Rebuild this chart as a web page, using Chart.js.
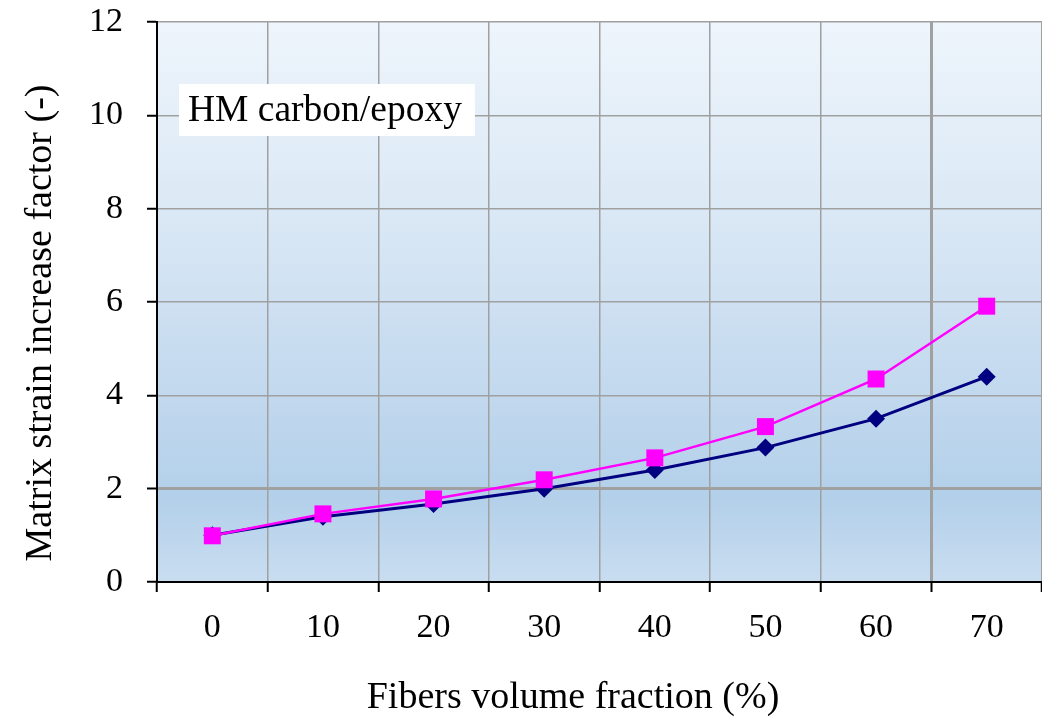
<!DOCTYPE html>
<html>
<head>
<meta charset="utf-8">
<script src="https://cdn.jsdelivr.net/npm/chart.js@4/dist/chart.umd.min.js"></script>
<style>
    body { margin: 0; background: #ffffff; }
    canvas { display: block; }
</style>
</head>
<body>
<canvas id="strain-chart" width="1042" height="720"></canvas>
<script>
// 數據
const fractions = ['0', '10', '20', '30', '40', '50', '60', '70'];
const squareSeries = [0.99, 1.46, 1.78, 2.19, 2.66, 3.33, 4.35, 5.91];
const diamondSeries = [1.00, 1.40, 1.67, 2.00, 2.40, 2.88, 3.50, 4.40];
const yTicks = [0, 2, 4, 6, 8, 10, 12];

const xTitle = 'Fibers volume fraction (%)';
const yTitle = 'Matrix strain increase factor (-)';
const boxLabel = 'HM carbon/epoxy';

const serif = '"Liberation Serif", "Times New Roman", serif';

// 背景漸層
const plotBackground = {
    id: 'plotBackground',
    beforeDraw(chart) {
        const { ctx, chartArea: a } = chart;
        const g = ctx.createLinearGradient(0, a.top, 0, a.bottom);
        g.addColorStop(0, '#eef5fc');
        g.addColorStop(0.35, '#dae8f5');
        g.addColorStop(0.65, '#c3d9ee');
        g.addColorStop(0.85, '#b3d0ea');
        g.addColorStop(1, '#c9ddf0');
        ctx.save();
        ctx.fillStyle = g;
        ctx.fillRect(a.left, a.top, a.right - a.left, a.bottom - a.top);
        ctx.restore();
    }
};

// 標籤框
const labelBox = {
    id: 'labelBox',
    beforeDatasetsDraw(chart) {
        const { ctx, chartArea: a } = chart;
        ctx.save();
        ctx.font = '37.5px ' + serif;
        const w = ctx.measureText(boxLabel).width;
        const x = a.left + 22;
        const y = a.top + 62;
        ctx.fillStyle = '#ffffff';
        ctx.fillRect(x, y, w + 22, 52);
        ctx.fillStyle = '#000000';
        ctx.textBaseline = 'middle';
        ctx.fillText(boxLabel, x + 9, y + 27);
        ctx.restore();
    }
};

// 軸標題
const axisTitles = {
    id: 'axisTitles',
    afterDraw(chart) {
        const { ctx } = chart;
        ctx.save();
        ctx.fillStyle = '#000000';
        ctx.textAlign = 'center';
        ctx.textBaseline = 'middle';
        ctx.font = '38px ' + serif;
        ctx.fillText(xTitle, 573, 698);
        ctx.font = '38px ' + serif;
        ctx.translate(41, 323);
        ctx.rotate(-Math.PI / 2);
        ctx.fillText(yTitle, 0, 0);
        ctx.restore();
    }
};

const ctx = document.getElementById('strain-chart').getContext('2d');

new Chart(ctx, {
    type: 'line',
    data: {
        labels: fractions,
        datasets: [{
            label: 'Square series',
            data: squareSeries,
            borderColor: '#ff00ff',
            backgroundColor: '#ff00ff',
            borderWidth: 2.5,
            pointStyle: 'rect',
            pointRadius: 12,
            pointHoverRadius: 12,
            pointBorderWidth: 0,
            tension: 0,
            order: 0
        }, {
            label: 'Diamond series',
            data: diamondSeries,
            borderColor: '#000080',
            backgroundColor: '#000080',
            borderWidth: 3,
            pointStyle: 'rectRot',
            pointRadius: 9,
            pointHoverRadius: 9,
            pointBorderWidth: 0,
            tension: 0,
            order: 1
        }]
    },
    options: {
        responsive: false,
        animation: false,
        layout: {
            autoPadding: false,
            padding: { top: 22, right: 0, bottom: 0, left: 0 }
        },
        plugins: {
            legend: { display: false },
            tooltip: { enabled: false }
        },
        scales: {
            x: {
                type: 'category',
                offset: true,
                afterFit: function(scale) {
                    scale.height = 138;
                    scale.paddingLeft = 0;
                    scale.paddingRight = 0;
                },
                grid: {
                    offset: true,
                    color: '#a0a0a0',
                    lineWidth: function(context) { return context.index === 7 ? 3 : 1.5; },
                    tickColor: '#000000',
                    tickWidth: 2,
                    tickLength: 10
                },
                border: { color: '#000000', width: 2 },
                ticks: {
                    color: '#000000',
                    padding: 16,
                    font: { family: serif, size: 34 }
                }
            },
            y: {
                min: 0,
                max: 12,
                afterFit: function(scale) {
                    scale.width = 157;
                    scale.paddingTop = 0;
                    scale.paddingBottom = 0;
                },
                afterBuildTicks: function(scale) {
                    scale.ticks = yTicks.map(v => ({ value: v }));
                },
                grid: {
                    color: '#a0a0a0',
                    lineWidth: function(context) {
                        return context.tick && context.tick.value === 2 ? 3 : 1.5;
                    },
                    tickColor: '#000000',
                    tickWidth: 2,
                    tickLength: 10
                },
                border: { color: '#000000', width: 2 },
                ticks: {
                    color: '#000000',
                    padding: 24,
                    font: { family: serif, size: 34 }
                }
            }
        }
    },
    plugins: [plotBackground, labelBox, axisTitles]
});
</script>
</body>
</html>
